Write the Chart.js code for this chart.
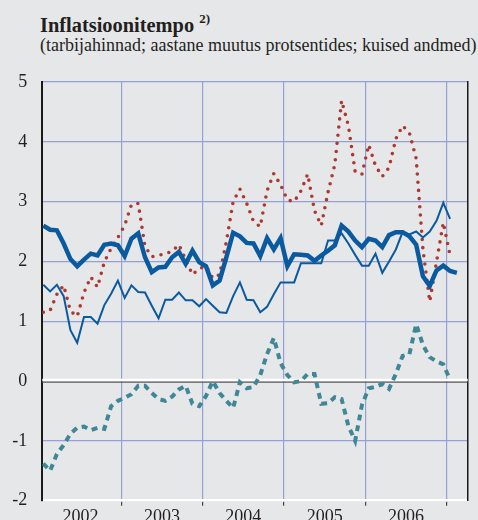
<!DOCTYPE html>
<html>
<head>
<meta charset="utf-8">
<script src="https://cdn.jsdelivr.net/npm/chart.js@4"></script>
<style>
  body { margin: 0; background: #e6e7e9; }
  #wrap { position: relative; width: 478px; height: 520px; overflow: hidden; }
  #title { position: absolute; left: 40px; top: 12px; font: bold 20.4px "Liberation Serif"; color: #231f20; white-space: nowrap; }
  #title sup { font-size: 13px; position: relative; top: -1px; }
  #sub { position: absolute; left: 40px; top: 35px; font: 18px "Liberation Serif"; color: #231f20; white-space: nowrap; }
  canvas { position: absolute; left: 0; top: 0; }
</style>
</head>
<body>
<div id="wrap">
  <div id="title">Inflatsioonitempo <sup>2)</sup></div>
  <div id="sub">(tarbijahinnad; aastane muutus protsentides; kuised andmed)</div>
  <canvas id="chart" width="478" height="520"></canvas>
</div>
<script>
// aastad (x-telje sildid)
const years = ["2002", "2003", "2004", "2005", "2006"];
// kuud 2002-01 ... 2007-02
const months = [];
for (let y = 2002; y <= 2007; y++) {
  for (let m = 1; m <= 12; m++) {
    if (y === 2007 && m > 2) break;
    months.push(y + "-" + String(m).padStart(2, "0"));
  }
}
const yTicks = [-2, -1, 0, 1, 2, 3, 4, 5];

// paks sinine joon
const seriesThick = [
  2.6, 2.53, 2.52, 2.3, 2.04, 1.92, 2.03, 2.13, 2.1, 2.28, 2.3, 2.27,
  2.09, 2.38, 2.47, 2.07, 1.82, 1.9, 1.91, 2.07, 2.16, 1.96, 2.18, 1.99,
  1.92, 1.6, 1.68, 2.07, 2.48, 2.42, 2.31, 2.3, 2.09, 2.39, 2.2, 2.39,
  1.92, 2.12, 2.11, 2.1, 2.01, 2.1, 2.18, 2.27, 2.6, 2.5, 2.35, 2.24,
  2.38, 2.35, 2.24, 2.44, 2.49, 2.49, 2.42, 2.28, 1.75, 1.59, 1.85, 1.93,
  1.84, 1.81
];
// peenike sinine joon
const seriesThin = [
  1.61, 1.5, 1.61, 1.42, 0.85, 0.64, 1.07, 1.07, 0.96, 1.27, 1.46, 1.68,
  1.39, 1.6, 1.49, 1.48, 1.26, 1.05, 1.36, 1.36, 1.48, 1.35, 1.35, 1.25,
  1.37, 1.26, 1.15, 1.14, 1.42, 1.65, 1.36, 1.35, 1.15, 1.24, 1.45, 1.65,
  1.65, 1.65, 1.97, 1.97, 1.97, 1.97, 2.35, 2.35, 2.47, 2.3, 2.11, 1.93,
  1.93, 2.13, 1.81, 2.0, 2.2, 2.49, 2.45, 2.5, 2.4, 2.5, 2.68, 2.98,
  2.71, null
];
// punane punktiirjoon
const seriesDotted = [
  1.15, 1.18, 1.45, 1.6, 1.17, 1.08, 1.48, 1.74, 1.57, 1.99, 2.22, 2.4,
  2.6, 2.95, 2.97, 2.25, 2.08, 2.1, 2.13, 2.17, 2.28, 2.03, 1.78, 1.88,
  1.92, 1.72, 1.78, 2.33, 3.0, 3.21, 2.97, 2.67, 2.58, 3.18, 3.47, 3.28,
  3.03, 3.0, 3.18, 3.46, 2.85, 2.6, 3.16, 3.62, 4.69, 4.27, 3.5, 3.46,
  3.95, 3.6, 3.42, 3.57, 4.05, 4.27, 4.15, 3.72, 2.2, 1.33, 1.99, 2.65,
  2.1, null
];
// rohekas katkendjoon
const seriesDashed = [
  -1.38, -1.5, -1.22, -1.07, -0.88, -0.78, -0.76, -0.82, -0.78, -0.8, -0.42, -0.33,
  -0.28, -0.22, -0.08, -0.08, -0.2, -0.3, -0.33, -0.26, -0.14, -0.08, -0.38, -0.42,
  -0.25, 0.0, -0.2, -0.33, -0.45, -0.02, -0.12, -0.1, 0.1, 0.45, 0.72, 0.3,
  0.1, -0.02, 0.0, 0.12, 0.12, -0.38, -0.37, -0.27, -0.3, -0.75, -1.0, -0.4,
  -0.12, -0.1, -0.05, -0.13, 0.12, 0.42, 0.45, 0.95, 0.6, 0.4, 0.33, 0.28,
  0.02, null
];

const toXY = arr => arr.map((v, i) => ({ x: i, y: v }));

// aastapiirid (detsembri ja jaanuari vahel)
const yearEdges = years.map((y, i) => 11.5 + 12 * i);

const serif = "'Liberation Serif', 'Times New Roman', serif";

// nulljoon: valge + tume
const zeroLine = {
  id: "zeroLine",
  beforeDatasetsDraw(chart) {
    const { ctx, chartArea, scales } = chart;
    const y0 = scales.y.getPixelForValue(0);
    ctx.save();
    ctx.strokeStyle = "#ffffff";
    ctx.lineWidth = 2.5;
    ctx.beginPath();
    ctx.moveTo(chartArea.left, y0 - 1);
    ctx.lineTo(chartArea.right, y0 - 1);
    ctx.stroke();
    ctx.strokeStyle = "#58595b";
    ctx.lineWidth = 1.3;
    ctx.beginPath();
    ctx.moveTo(chartArea.left, y0 + 1);
    ctx.lineTo(chartArea.right, y0 + 1);
    ctx.stroke();
    ctx.restore();
  }
};

// telgede servade lisaruumi nullimine
const noPad = s => {
  s.paddingTop = 0; s.paddingBottom = 0;
  s.paddingLeft = 0; s.paddingRight = 0;
};

new Chart(document.getElementById("chart"), {
  type: "line",
  data: {
    datasets: [
      {
        label: "dashed",
        data: toXY(seriesDashed),
        borderColor: "#3f8796",
        borderWidth: 4,
        borderDash: [6, 5],
        borderCapStyle: "butt"
      },
      {
        label: "thin",
        data: toXY(seriesThin),
        borderColor: "#0a5aa0",
        borderWidth: 2
      },
      {
        label: "thick",
        data: toXY(seriesThick),
        borderColor: "#0a5aa0",
        borderWidth: 4.5
      },
      {
        label: "dotted",
        data: toXY(seriesDotted),
        borderColor: "#ae3830",
        borderWidth: 3.6,
        borderDash: [0, 8.2],
        borderCapStyle: "round"
      }
    ]
  },
  options: {
    responsive: false,
    animation: false,
    devicePixelRatio: 1,
    elements: { point: { radius: 0 }, line: { tension: 0, borderJoinStyle: "miter" } },
    layout: { padding: { top: 82, right: 10.3, left: 0, bottom: 0 } },
    plugins: { legend: { display: false }, tooltip: { enabled: false }, title: { display: false } },
    scales: {
      x: {
        type: "linear",
        min: -0.15,
        max: 62.6,
        afterBuildTicks: s => { s.ticks = yearEdges.map(v => ({ value: v })); },
        afterFit: s => { s.height = 19.3; noPad(s); },
        ticks: {
          callback: (v, i) => years[i],
          labelOffset: -40.7,
          padding: 1,
          maxRotation: 0,
          autoSkip: false,
          color: "#231f20",
          font: { family: serif, size: 18 }
        },
        grid: { color: "#95a1d4", lineWidth: 1.2, tickLength: 5, tickColor: "#444", tickWidth: 1.2 },
        border: { color: "#ffffff", width: 2.5 }
      },
      y: {
        min: -2,
        max: 5,
        afterBuildTicks: s => { s.ticks = yTicks.map(v => ({ value: v })); },
        afterFit: s => { s.width = 42.3; noPad(s); },
        ticks: {
          callback: v => String(v),
          padding: 15,
          color: "#231f20",
          font: { family: serif, size: 18 }
        },
        grid: {
          color: c => (c.tick && c.tick.value === 0) ? "rgba(0,0,0,0)" : "#95a1d4",
          lineWidth: 1.2,
          drawTicks: false
        },
        border: { color: "#1a1a1a", width: 2 }
      },
      yR: {
        position: "right",
        min: -2,
        max: 5,
        afterFit: s => { s.width = 0; noPad(s); },
        ticks: { display: false },
        grid: { display: false, drawTicks: false },
        border: { color: "#1a1a1a", width: 1.5 }
      }
    }
  },
  plugins: [zeroLine]
});
</script>
</body>
</html>
